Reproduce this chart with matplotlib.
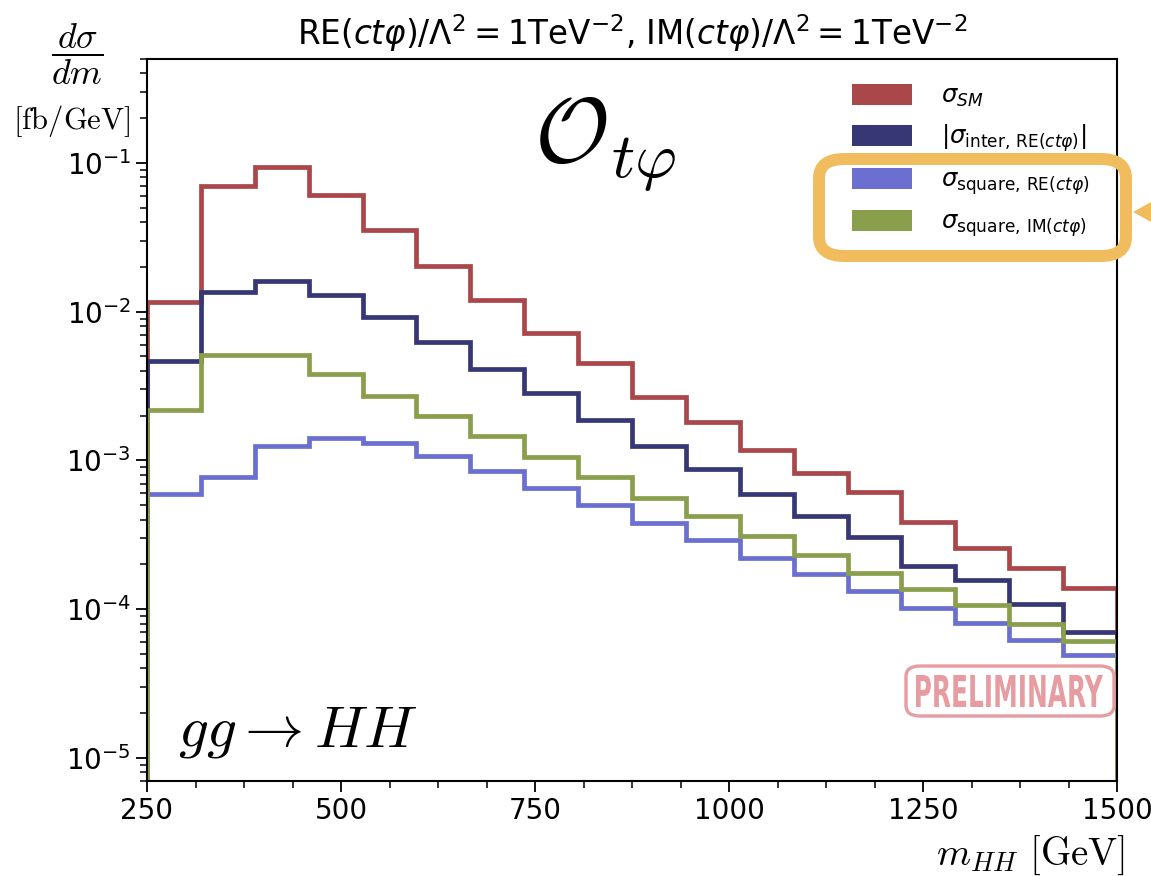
import numpy as np
import matplotlib.pyplot as plt
from matplotlib.patches import Patch, FancyBboxPatch, Polygon, PathPatch
from matplotlib.textpath import TextPath
from matplotlib.font_manager import FontProperties
from matplotlib.path import Path
from matplotlib.ticker import MultipleLocator, LogLocator, NullFormatter

plt.rcParams['mathtext.fontset'] = 'dejavusans'

# 18 bins, 250 - 1500 GeV
edges = np.linspace(250, 1500, 19)

sigma_sm = [0.0117, 0.0701, 0.0940, 0.0610, 0.0355, 0.0204, 0.0119, 0.00723, 0.00455,
            0.00269, 0.00180, 0.00117, 0.000830, 0.000610, 0.000384, 0.000257,
            0.000188, 0.000138]
sigma_inter = [0.00469, 0.01361, 0.01614, 0.01300, 0.00925, 0.00629, 0.00414, 0.00282,
               0.00188, 0.00126, 0.000871, 0.000592, 0.000421, 0.000304, 0.000194,
               0.000157, 0.000108, 0.0000701]
sigma_sq_re = [0.000592, 0.000769, 0.00126, 0.001426, 0.001320, 0.001064, 0.000844,
               0.000649, 0.000499, 0.000378, 0.000290, 0.000220, 0.000172, 0.000132,
               0.000102, 0.0000806, 0.0000620, 0.0000491]
sigma_sq_im = [0.00217, 0.00514, 0.00514, 0.00384, 0.00273, 0.00200, 0.00145, 0.001047,
               0.000769, 0.000556, 0.000421, 0.000309, 0.000230, 0.000174, 0.000136,
               0.000106, 0.0000793, 0.0000610]

labels = [r'$\sigma_{SM}$',
          r'$|\sigma_{\mathrm{inter,\,RE}(ct\varphi)}|$',
          r'$\sigma_{\mathrm{square,\,RE}(ct\varphi)}$',
          r'$\sigma_{\mathrm{square,\,IM}(ct\varphi)}$']
colors = ['#a9474a', '#363774', '#6a6fd0', '#8a9f4c']
series = [sigma_sm, sigma_inter, sigma_sq_re, sigma_sq_im]

W, H = 1151, 876
fig = plt.figure(figsize=(W / 100, H / 100), dpi=100)
ax = fig.add_axes([147 / W, 1 - 781 / H, 970 / W, 722 / H])


def fx(px):
    return px / W


def fy(py):
    return 1 - py / H


for vals, c in zip(series, colors):
    ax.stairs(vals, edges, baseline=1e-9, color=c, lw=3.4)

ax.set_yscale('log')
ax.set_xlim(250, 1500)
ax.set_ylim(7e-6, 0.5)
ax.xaxis.set_major_locator(MultipleLocator(250))
ax.xaxis.set_minor_locator(MultipleLocator(62.5))
ax.yaxis.set_major_locator(LogLocator(base=10, numticks=20))
ax.yaxis.set_minor_locator(LogLocator(base=10, subs=np.arange(2, 10), numticks=20))
ax.yaxis.set_minor_formatter(NullFormatter())
ax.tick_params(which='major', length=8, width=1.3, labelsize=20)
ax.tick_params(which='minor', length=5, width=1.1)
for s in ax.spines.values():
    s.set_linewidth(1.5)

ax.set_title(r'RE$(ct\varphi)/\Lambda^2 = 1$TeV$^{-2}$, IM$(ct\varphi)/\Lambda^2 = 1$TeV$^{-2}$',
             fontsize=23.5, pad=10)

# axis labels in computer modern
fig.text(fx(77), fy(54), r'$\dfrac{d\sigma}{dm}$', fontsize=26, math_fontfamily='cm',
         ha='center', va='center')
fig.text(fx(72), fy(121), r'$[\mathrm{fb/GeV}]$', fontsize=22, math_fontfamily='cm',
         ha='center', va='center')
fig.text(fx(1125), fy(855), r'$m_{HH}\ [\mathrm{GeV}]$', fontsize=28,
         math_fontfamily='cm', ha='right', va='center')

fig.text(fx(298), fy(731), r'$gg \rightarrow HH$', fontsize=42.5, math_fontfamily='cm',
         ha='center', va='center')
fig.text(fx(605), fy(145), r'$\mathcal{O}_{t\varphi}$', fontsize=66, math_fontfamily='cm',
         ha='center', va='center')

handles = [Patch(facecolor=c, edgecolor='none') for c in colors]
ax.legend(handles, labels, loc='upper left', bbox_to_anchor=((852 - 147) / 970, (781 - 84) / 722),
          frameon=False, fontsize=17.5, borderpad=0, borderaxespad=0, handlelength=2.45,
          handleheight=0.95, handletextpad=1.2, labelspacing=0.55)

# preliminary stamp: condensed bold letters squeezed into the stamp box
pink = '#e69ca0'
tp = TextPath((0, 0), 'PRELIMINARY', size=10, prop=FontProperties(family='DejaVu Sans', weight='bold'))
ext = tp.get_extents()
v = tp.vertices.copy()
x0, x1, y0, y1 = 916, 1103, 675, 707
v[:, 0] = fx(x0) + (v[:, 0] - ext.x0) / ext.width * (fx(x1) - fx(x0))
v[:, 1] = fy(y1) + (v[:, 1] - ext.y0) / ext.height * (fy(y0) - fy(y1))
fig.patches.append(PathPatch(Path(v, tp.codes), transform=fig.transFigure, fc=pink, ec='none'))
fig.patches.append(FancyBboxPatch((fx(906), fy(716)), fx(1114) - fx(906), fy(666) - fy(716),
                                  boxstyle='round,pad=0,rounding_size=0.012',
                                  transform=fig.transFigure, fc='none', ec=pink, lw=2.4))

# highlight box around the square terms
orange = '#f1bc5e'
fig.patches.append(FancyBboxPatch((fx(819), fy(256)), fx(1126) - fx(819), fy(159) - fy(256),
                                  boxstyle='round,pad=0,rounding_size=0.022',
                                  transform=fig.transFigure, fc='none', ec=orange, lw=8.6))
fig.patches.append(Polygon([[fx(1133), fy(212)], [fx(1151), fy(202)], [fx(1151), fy(222)]],
                           closed=True, transform=fig.transFigure, fc=orange, ec='none'))

fig.savefig('out.png', dpi=100)
